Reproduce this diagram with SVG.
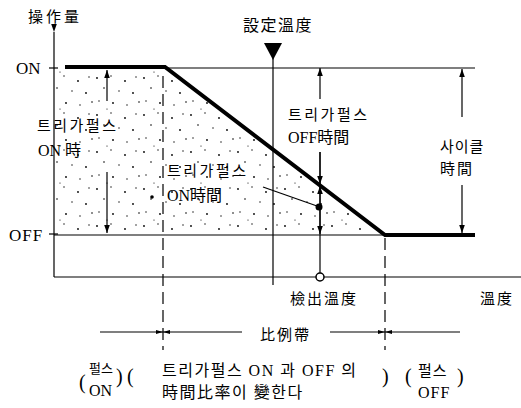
<svg xmlns="http://www.w3.org/2000/svg" width="521" height="408" viewBox="0 0 521 408">
<defs>
<style>
.t{font-family:"Liberation Serif","Noto Sans CJK KR",serif;font-size:15px;fill:#000}
.k{letter-spacing:2.5px}
.thin{stroke:#000;stroke-width:1.2;fill:none}
.thick{stroke:#000;stroke-width:4;fill:none}
.dash{stroke:#000;stroke-width:1.2;fill:none;stroke-dasharray:12 6}
</style>
<pattern id="dots" width="47" height="37" patternUnits="userSpaceOnUse">
<circle cx="3" cy="4" r="0.9" fill="#000"/>
<circle cx="17" cy="2" r="0.7" fill="#000"/>
<circle cx="31" cy="7" r="0.9" fill="#000"/>
<circle cx="42" cy="3" r="0.7" fill="#000"/>
<circle cx="10" cy="14" r="0.8" fill="#000"/>
<circle cx="25" cy="17" r="0.7" fill="#000"/>
<circle cx="39" cy="19" r="0.9" fill="#000"/>
<circle cx="5" cy="27" r="0.7" fill="#000"/>
<circle cx="19" cy="29" r="0.9" fill="#000"/>
<circle cx="33" cy="31" r="0.7" fill="#000"/>
<circle cx="45" cy="28" r="0.8" fill="#000"/>
<circle cx="13" cy="35" r="0.6" fill="#000"/>
</pattern>
<marker id="ah" viewBox="0 0 10 10" refX="10" refY="5" markerWidth="8" markerHeight="8" markerUnits="userSpaceOnUse" orient="auto">
<path d="M0,1.5 L10,5 L0,8.5 Z" fill="#000"/>
</marker>
<marker id="ahs" viewBox="0 0 10 10" refX="10" refY="5" markerWidth="12" markerHeight="7" markerUnits="userSpaceOnUse" orient="auto">
<path d="M0,2 L10,5 L0,8 Z" fill="#000"/>
</marker>
</defs>

<g id="shaded-area">
<polygon points="55,68 165,68 385,235 55,235" fill="url(#dots)"/>
</g>

<g id="axes">
<line class="thin" x1="54" y1="32" x2="54" y2="277" marker-start="url(#ah)"/>
<line class="thin" x1="54" y1="277" x2="521" y2="277"/>
<line class="thin" x1="49" y1="68" x2="58" y2="68"/>
<line class="thin" x1="49" y1="234" x2="58" y2="234"/>
<text class="t" x="28" y="22" style="letter-spacing:3px">操作量</text>
<text class="t" x="16" y="74" style="font-size:17px">ON</text>
<text class="t" x="9" y="241" style="font-size:17px;letter-spacing:1px">OFF</text>
<text class="t" x="480" y="304" style="letter-spacing:2px">溫度</text>
</g>

<g id="reference-lines">
<line class="thin" x1="165" y1="68" x2="475" y2="68" stroke-width="0.9"/>
<line class="thin" x1="54" y1="235" x2="385" y2="235"/>
<line class="dash" x1="163" y1="76" x2="163" y2="350"/>
<line class="dash" x1="385" y1="238" x2="385" y2="350"/>
</g>

<g id="control-curve">
<polyline class="thick" points="65,67 165,67 385,235 475,235"/>
</g>

<g id="set-temperature">
<polygon points="264,43 282,43 273,60" fill="#000"/>
<line class="thin" x1="273" y1="55" x2="273" y2="285" stroke-width="1.5"/>
<text class="t" x="243" y="31" style="font-size:16px;letter-spacing:1.5px">設定溫度</text>
</g>

<g id="detected-temperature">
<line class="thin" x1="320" y1="152" x2="320" y2="273"/>
<circle cx="320" cy="277" r="4" fill="#fff" stroke="#000" stroke-width="1.5"/>
<circle cx="319" cy="207" r="3.5" fill="#000"/>
<text class="t" x="290" y="304" style="letter-spacing:2px">檢出溫度</text>
</g>

<g id="connectors">
<line class="thin" x1="320" y1="99" x2="320" y2="68" marker-end="url(#ah)"/>
<line class="thin" x1="320" y1="152" x2="320" y2="184" marker-end="url(#ah)"/>
<line class="thin" x1="320" y1="205" x2="320" y2="186" marker-end="url(#ah)"/>
<line class="thin" x1="320" y1="209" x2="320" y2="234" marker-end="url(#ah)"/>
<line class="thin" x1="263" y1="187" x2="317" y2="206"/>
<line class="thin" x1="462" y1="117" x2="462" y2="69" marker-end="url(#ah)"/>
<line class="thin" x1="462" y1="185" x2="462" y2="233" marker-end="url(#ah)"/>
<line class="thin" x1="107" y1="101" x2="107" y2="70" marker-end="url(#ah)"/>
<line class="thin" x1="107" y1="172" x2="107" y2="233" marker-end="url(#ah)"/>
<line class="thin" x1="100" y1="332" x2="163" y2="332" marker-end="url(#ahs)"/>
<line class="thin" x1="242" y1="332" x2="163" y2="332" marker-end="url(#ahs)"/>
<line class="thin" x1="330" y1="332" x2="385" y2="332" marker-end="url(#ahs)"/>
<line class="thin" x1="460" y1="332" x2="385" y2="332" marker-end="url(#ahs)"/>
</g>

<g id="label-on-time-left">
<text class="t k" x="37" y="131">트리가펄스</text>
<text class="t" x="38" y="156" style="font-size:16px">ON 時</text>
</g>

<g id="label-on-time-center">
<circle cx="152" cy="197" r="1.8" fill="#000"/>
<text class="t k" x="167" y="176">트리가펄스</text>
<text class="t" x="167" y="201" style="font-size:16px">ON時間</text>
</g>

<g id="label-off-time">
<text class="t k" x="288" y="120">트리가펄스</text>
<text class="t" x="288" y="143" style="font-size:16px">OFF時間</text>
</g>

<g id="label-cycle">
<text class="t" x="440" y="152" style="letter-spacing:1px">사이클</text>
<text class="t" x="440" y="174" style="letter-spacing:2px">時間</text>
</g>

<g id="label-band">
<text class="t" x="260" y="340" style="letter-spacing:2px">比例帶</text>
</g>

<g id="bottom-notes">
<text class="t" x="79" y="389" style="font-size:20px">(</text>
<text class="t" x="89" y="373" style="font-size:13px">펄스</text>
<text class="t" x="89" y="396" style="font-size:16px">ON</text>
<text class="t" x="116" y="383" style="font-size:20px">)</text>
<text class="t" x="127" y="383" style="font-size:20px">(</text>
<text class="t" x="162" y="376" style="font-size:16px;letter-spacing:1.5px">트리가펄스 ON 과 OFF 의</text>
<text class="t" x="162" y="398" style="font-size:16px;letter-spacing:1.5px">時間比率이 變한다</text>
<text class="t" x="382" y="383" style="font-size:20px">)</text>
<text class="t" x="405" y="383" style="font-size:20px">(</text>
<text class="t" x="418" y="376" style="letter-spacing:1px">펄스</text>
<text class="t" x="418" y="398" style="font-size:16px;letter-spacing:1px">OFF</text>
<text class="t" x="457" y="383" style="font-size:20px">)</text>
</g>
</svg>
